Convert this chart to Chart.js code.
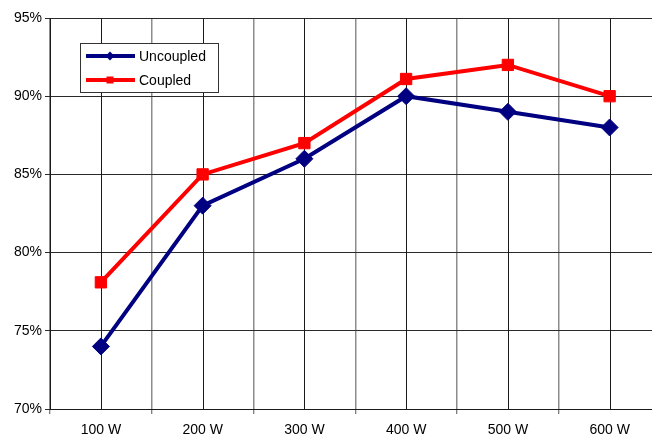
<!DOCTYPE html>
<html>
<head>
<meta charset="utf-8">
<script src="https://cdn.jsdelivr.net/npm/chart.js@4/dist/chart.umd.min.js"></script>
<style>
  html, body { margin: 0; padding: 0; overflow: hidden; background: #fff; }
  #wrap { width: 670px; height: 435px; }
</style>
</head>
<body>
<div id="wrap"><canvas id="c" width="670" height="435"></canvas></div>
<script>
// Efficiency versus output power
const categories = ['100 W', '200 W', '300 W', '400 W', '500 W', '600 W'];
const uncoupled = [74, 83, 86, 90, 89, 88];
const coupled = [78.1, 85, 87, 91.1, 92, 90];
const yTicks = [70, 75, 80, 85, 90, 95];

const NAVY = '#000080';
const RED = '#ff0000';
const GRID_DARK = '#1a1a1a';
const FONT = { family: '"Liberation Sans", Arial, sans-serif', size: 14 };

// Vertical lines through each category position
const centerLines = {
  id: 'centerLines',
  beforeDatasetsDraw(chart) {
    const { ctx, chartArea, scales } = chart;
    ctx.save();
    ctx.strokeStyle = GRID_DARK;
    ctx.lineWidth = 1;
    categories.forEach((_, i) => {
      const x = Math.round(scales.x.getPixelForValue(i)) + 0.5;
      ctx.beginPath();
      ctx.moveTo(x, chartArea.top);
      ctx.lineTo(x, chartArea.bottom);
      ctx.stroke();
    });
    ctx.restore();
  }
};

// Boxed legend inside the plot area
const boxLegend = {
  id: 'boxLegend',
  afterDatasetsDraw(chart) {
    const { ctx } = chart;
    const left = 80, top = 43, w = 138, h = 49;
    ctx.save();
    ctx.fillStyle = '#fff';
    ctx.fillRect(left, top, w, h);
    ctx.strokeStyle = '#333';
    ctx.lineWidth = 1;
    ctx.strokeRect(left + 0.5, top + 0.5, w, h);
    const rows = [56, 80];
    chart.data.datasets.forEach((ds, i) => {
      const y = rows[i];
      ctx.strokeStyle = ds.borderColor;
      ctx.lineWidth = 4;
      ctx.beginPath();
      ctx.moveTo(86, y);
      ctx.lineTo(135, y);
      ctx.stroke();
      ctx.fillStyle = ds.pointBackgroundColor;
      ctx.beginPath();
      if (ds.pointStyle === 'rectRot') {
        ctx.moveTo(110, y - 4.5); ctx.lineTo(114.5, y); ctx.lineTo(110, y + 4.5); ctx.lineTo(105.5, y);
      } else {
        ctx.rect(106.5, y - 3.5, 7, 7);
      }
      ctx.closePath();
      ctx.fill();
      ctx.fillStyle = '#000';
      ctx.font = `${FONT.size}px ${FONT.family}`;
      ctx.textBaseline = 'middle';
      ctx.textAlign = 'left';
      ctx.fillText(ds.label, 139, y + 1);
    });
    ctx.restore();
  }
};

new Chart(document.getElementById('c'), {
  type: 'line',
  data: {
    labels: categories,
    datasets: [
      {
        label: 'Uncoupled',
        data: uncoupled,
        borderColor: NAVY,
        backgroundColor: NAVY,
        pointBackgroundColor: NAVY,
        pointBorderColor: NAVY,
        borderWidth: 4,
        pointStyle: 'rectRot',
        pointRadius: 8.5,
        pointBorderWidth: 1,
        tension: 0
      },
      {
        label: 'Coupled',
        data: coupled,
        borderColor: RED,
        backgroundColor: RED,
        pointBackgroundColor: RED,
        pointBorderColor: RED,
        borderWidth: 4,
        pointStyle: 'rect',
        pointRadius: 8,
        pointBorderWidth: 1,
        tension: 0
      }
    ]
  },
  options: {
    responsive: false,
    animation: false,
    devicePixelRatio: 1,
    layout: { padding: { top: 18, right: 8, left: 0, bottom: 0 } },
    plugins: { legend: { display: false }, tooltip: { enabled: false } },
    scales: {
      x: {
        offset: true,
        afterFit(s) { s.height = 26; },
        grid: { offset: true, color: '#8c8c8c', lineWidth: 1.5, tickLength: 5, tickColor: '#555', tickWidth: 1 },
        border: { color: GRID_DARK, width: 1 },
        ticks: { color: '#000', font: FONT, padding: 8, maxRotation: 0 }
      },
      y: {
        min: 70,
        max: 95,
        afterFit(s) { s.width = 50; },
        afterBuildTicks(s) { s.ticks = yTicks.map(v => ({ value: v })); },
        grid: { color: '#2a2a2a', lineWidth: 1, tickLength: 5 },
        border: { color: GRID_DARK, width: 1 },
        ticks: { color: '#000', font: FONT, padding: 3, callback: v => v + '%' }
      }
    }
  },
  plugins: [centerLines, boxLegend]
});
</script>
</body>
</html>
